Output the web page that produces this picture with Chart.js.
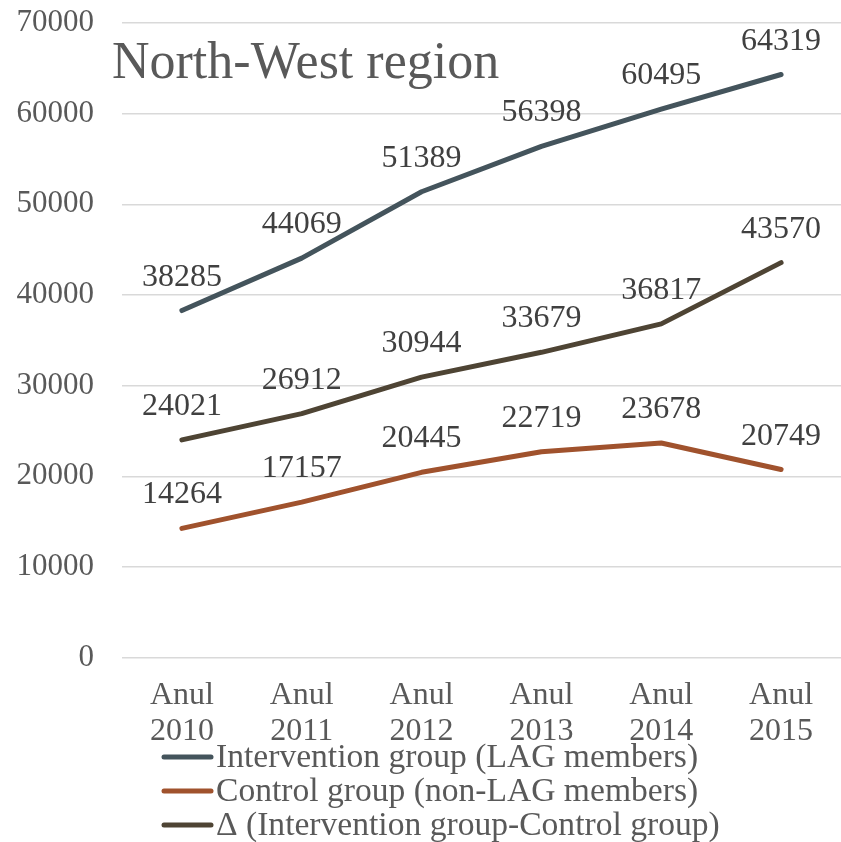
<!DOCTYPE html>
<html>
<head>
<meta charset="utf-8">
<title>North-West region</title>
<script src="https://cdn.jsdelivr.net/npm/chart.js@4.4.1/dist/chart.umd.min.js"></script>
<style>
  html, body { margin: 0; padding: 0; background: #ffffff; }
  #wrap { width: 841px; height: 842px; position: relative; }
</style>
</head>
<body>
<div id="wrap"><canvas id="chart"></canvas></div>
<script>
// Average values per year, North-West region
const chartTitle = 'North-West region';
const categories = [['Anul', '2010'], ['Anul', '2011'], ['Anul', '2012'], ['Anul', '2013'], ['Anul', '2014'], ['Anul', '2015']];
const seriesNames = [
  'Intervention group (LAG members)',
  'Control group (non-LAG members)',
  'Δ (Intervention group-Control group)'
];
const interventionValues = [38285, 44069, 51389, 56398, 60495, 64319];
const controlValues = [14264, 17157, 20445, 22719, 23678, 20749];
const deltaValues = [24021, 26912, 30944, 33679, 36817, 43570];
const yMin = 0;
const yMax = 70000;
const yStep = 10000;

const FONT = "'Liberation Serif', 'DejaVu Serif', serif";
const seriesColors = ['#44545c', '#a0522d', '#4e4434'];

// Value labels drawn above each point
const valueLabels = {
  id: 'valueLabels',
  afterDatasetsDraw(chart) {
    const ctx = chart.ctx;
    ctx.save();
    ctx.font = '32px ' + FONT;
    ctx.fillStyle = '#404040';
    ctx.textAlign = 'center';
    ctx.textBaseline = 'alphabetic';
    chart.data.datasets.forEach((ds, i) => {
      const meta = chart.getDatasetMeta(i);
      meta.data.forEach((pt, j) => {
        ctx.fillText(String(ds.data[j]), pt.x, pt.y - 25);
      });
    });
    ctx.restore();
  }
};

// Title placed inside the plot area
const innerTitle = {
  id: 'innerTitle',
  afterDraw(chart) {
    const ctx = chart.ctx;
    ctx.save();
    ctx.font = '52px ' + FONT;
    ctx.fillStyle = '#595959';
    ctx.textAlign = 'left';
    ctx.textBaseline = 'alphabetic';
    ctx.fillText(chartTitle, chart.chartArea.left - 10, chart.chartArea.top + 55);
    ctx.restore();
  }
};

// Stacked legend below the category axis
const stackedLegend = {
  id: 'stackedLegend',
  afterDraw(chart) {
    const ctx = chart.ctx;
    const x0 = 164;
    const y0 = chart.height - 85;
    const rowGap = 34;
    ctx.save();
    ctx.font = '33.6px ' + FONT;
    ctx.textAlign = 'left';
    ctx.textBaseline = 'middle';
    chart.data.datasets.forEach((ds, i) => {
      const y = y0 + i * rowGap;
      ctx.strokeStyle = ds.borderColor;
      ctx.lineWidth = 5;
      ctx.lineCap = 'round';
      ctx.beginPath();
      ctx.moveTo(x0, y);
      ctx.lineTo(x0 + 47, y);
      ctx.stroke();
      ctx.fillStyle = '#595959';
      ctx.fillText(ds.label, x0 + 52, y + 1);
    });
    ctx.restore();
  }
};

const valueSeries = [interventionValues, controlValues, deltaValues];

new Chart(document.getElementById('chart'), {
  type: 'line',
  data: {
    labels: categories,
    datasets: valueSeries.map((vals, i) => ({
      label: seriesNames[i],
      data: vals,
      borderColor: seriesColors[i],
      backgroundColor: seriesColors[i],
      borderWidth: 5,
      borderCapStyle: 'round',
      borderJoinStyle: 'round',
      pointRadius: 0,
      pointHoverRadius: 0,
      tension: 0,
      fill: false
    }))
  },
  options: {
    responsive: true,
    maintainAspectRatio: false,
    animation: false,
    layout: { padding: { left: 15, right: -5, top: 23, bottom: 72 } },
    plugins: {
      legend: { display: false },
      title: { display: false },
      tooltip: { enabled: false }
    },
    scales: {
      x: {
        type: 'category',
        offset: true,
        grid: { display: false, drawTicks: false },
        border: { display: false },
        ticks: {
          color: '#595959',
          font: { family: FONT, size: 32, lineHeight: 1.13 },
          padding: 20,
          maxRotation: 0,
          autoSkip: false
        }
      },
      y: {
        min: yMin,
        max: yMax,
        afterFit(scale) {
          scale.width = 107;
          scale.paddingTop = 4;
          scale.paddingBottom = 4;
        },
        grid: { color: '#d9d9d9', lineWidth: 1.5, drawTicks: false },
        border: { display: false },
        ticks: {
          stepSize: yStep,
          color: '#595959',
          font: { family: FONT, size: 31 },
          padding: 28,
          callback: (v) => String(v)
        }
      }
    }
  },
  plugins: [valueLabels, innerTitle, stackedLegend]
});
</script>
</body>
</html>
